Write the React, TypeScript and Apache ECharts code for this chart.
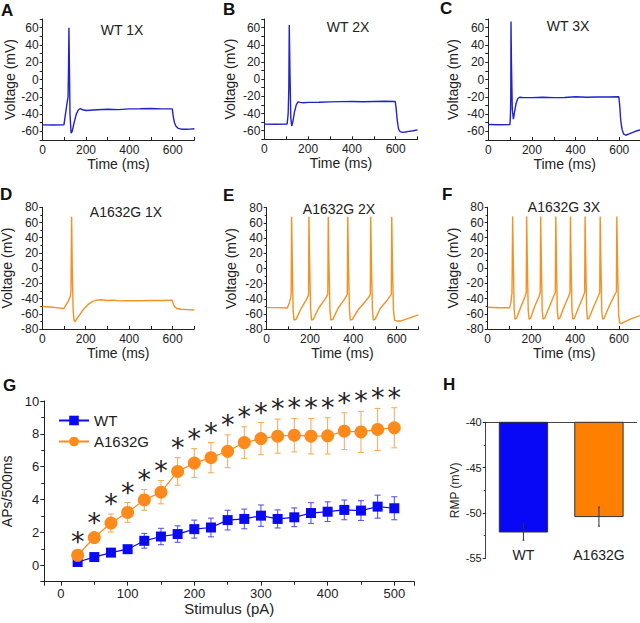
import React, { useEffect, useRef } from 'react';
import * as echarts from 'echarts';

const FONT = 'Arial, "Liberation Sans", Helvetica, sans-serif';
const INK = '#222222';

// ---------- Voltage traces [time (ms), voltage (mV)] ----------
const wt1x: number[][] = [
  [0, -52.5], [50, -52.6], [98, -52.5], [105, -40], [112, -28], [117, -20], [119, 10], [121, 60], [123, 20],
  [126, -40], [131, -62], [136, -60], [145, -50], [155, -40], [165, -35], [172, -33.8], [185, -35], [200, -35.8],
  [250, -35], [300, -34.5], [350, -34.8], [400, -34], [450, -33.8], [500, -33.5], [550, -34], [598, -34],
  [602, -42], [608, -50], [615, -54], [625, -56.5], [640, -57.5], [660, -57.6], [680, -57.4], [700, -57],
];
const wt2x: number[][] = [
  [0, -52.3], [50, -52.4], [104, -52.3], [106, -48], [109, -40], [112, -10], [114, 63], [117, 10], [121, -45],
  [125, -54.5], [130, -50], [138, -38], [146, -30], [154, -26.5], [165, -27], [180, -27.5], [200, -27],
  [250, -26.8], [300, -26.5], [350, -26.2], [400, -26], [450, -26.3], [500, -26], [550, -25.8], [598, -26],
  [602, -34], [607, -48], [613, -58], [620, -61], [632, -62], [645, -61.5], [660, -60.8], [680, -60], [700, -59],
];
const wt3x: number[][] = [
  [0, -52], [50, -52.3], [99, -52], [101, -45], [103, -20], [104, 67], [106, 20], [110, -35], [115, -46],
  [120, -38], [127, -28], [135, -22], [145, -20.5], [160, -21], [200, -21], [250, -20.5], [300, -21],
  [350, -20.8], [400, -20], [450, -20.5], [500, -20.2], [550, -20.3], [598, -20], [602, -30], [607, -48],
  [613, -58], [620, -63], [630, -64.5], [645, -63], [665, -61], [685, -59], [700, -58],
];
const mut1x: number[][] = [
  [0, -50.5], [50, -51.5], [100, -53], [110, -48], [120, -43], [128, -38], [132, -30], [135, 67.5], [138, 0],
  [142, -55], [146, -68], [150, -70.5], [160, -66], [175, -60], [190, -54], [210, -48], [230, -44], [250, -42],
  [270, -41.5], [300, -42.5], [330, -42], [350, -43], [400, -42.8], [450, -42.8], [500, -42.5], [550, -42.5],
  [598, -42], [603, -47], [610, -51], [620, -53], [640, -54], [670, -54.5], [700, -55],
];
const mut2x: number[][] = [
  [0, -51.5], [50, -51.5], [95, -52], [105, -45], [111, -38], [113, -33], [115, 68], [118, 10], [122, -55],
  [126, -68], [135, -67], [160, -52], [185, -40], [193, -35], [195, 68], [198, 10], [203, -55], [207, -68],
  [215, -67], [240, -52], [270, -40], [282, -34], [284, 68], [287, 10], [292, -55], [296, -68], [305, -67],
  [330, -52], [360, -40], [372, -34], [374, 68], [377, 10], [382, -55], [386, -68], [395, -67], [420, -55],
  [450, -45], [470, -38], [478, -34], [480, 68], [483, 10], [488, -55], [492, -68], [500, -67], [525, -52],
  [555, -42], [575, -34], [577, 68], [580, 10], [585, -55], [590, -68], [600, -69], [620, -69], [650, -66],
  [680, -63], [700, -61],
];
const mut3x: number[][] = [
  [0, -51.5], [50, -52], [100, -52], [106, -45], [111, -33], [114, 68], [117, 10], [121, -55], [125, -67],
  [132, -66], [150, -52], [170, -38], [176, -32], [178, 68], [181, 10], [185, -55], [189, -67], [196, -66],
  [215, -50], [235, -37], [240, -32], [242, 68], [245, 10], [249, -55], [253, -67], [260, -66], [280, -52],
  [300, -38], [309, -32], [311, 68], [314, 10], [318, -55], [322, -67], [329, -66], [350, -50], [370, -37],
  [376, -32], [378, 68], [381, 10], [385, -55], [389, -67], [396, -66], [415, -52], [435, -38], [443, -32],
  [445, 68], [448, 10], [452, -55], [456, -67], [463, -66], [485, -50], [505, -37], [512, -32], [514, 68],
  [517, 10], [521, -55], [525, -67], [532, -66], [555, -50], [580, -35], [588, -31], [590, 68], [593, 10],
  [598, -60], [603, -72], [610, -73], [630, -70], [660, -66], [700, -62],
];
const traces = [wt1x, wt2x, wt3x, mut1x, mut2x, mut3x];
const traceTitles = ['WT 1X', 'WT 2X', 'WT 3X', 'A1632G 1X', 'A1632G 2X', 'A1632G 3X'];
const panelLetters = ['A', 'B', 'C', 'D', 'E', 'F', 'G', 'H'];

// ---------- Panel G: APs per 500 ms vs stimulus ----------
const stimulus = [25, 50, 75, 100, 125, 150, 175, 200, 225, 250, 275, 300, 325, 350, 375, 400, 425, 450, 475, 500];
const wtAPs = [0.2, 0.5, 0.77, 0.98, 1.49, 1.75, 1.9, 2.2, 2.3, 2.75, 2.82, 3.02, 2.82, 2.92, 3.18, 3.26, 3.37, 3.33, 3.57, 3.47];
const wtErr = [0.1, 0.15, 0.2, 0.22, 0.45, 0.5, 0.5, 0.55, 0.57, 0.6, 0.6, 0.65, 0.55, 0.57, 0.63, 0.6, 0.6, 0.6, 0.7, 0.7];
const mutAPs = [0.61, 1.69, 2.57, 3.22, 3.98, 4.45, 5.71, 6.22, 6.55, 6.94, 7.47, 7.71, 7.86, 7.92, 7.86, 7.88, 8.16, 8.12, 8.27, 8.37];
const mutErr = [0.2, 0.25, 0.55, 0.6, 0.63, 0.71, 0.84, 0.88, 0.92, 1.0, 0.96, 0.98, 1.04, 1.02, 1.08, 1.1, 1.12, 1.25, 1.28, 1.22];
const seriesNames = ['WT', 'A1632G'];

// ---------- Panel H: resting membrane potential ----------
const rmpGroups = ['WT', 'A1632G'];
const rmpMean = [-52.1, -50.4];
const rmpErr = [0.9, 1.05];
const rmpBaseline = -40;

const WT_TRACE = '#2222cc';
const MUT_TRACE = '#f39224';
const WT_BLUE = '#0a0af2';
const MUT_ORANGE = '#ff8a1c';
const BAR_COLORS = ['#0808f6', '#ff8000'];

const gridsPx = [
  { left: 42.7, top: 19, width: 151.7, height: 121 },
  { left: 264.3, top: 19, width: 153.3, height: 120.3 },
  { left: 488.3, top: 19, width: 152.8, height: 121 },
  { left: 42.3, top: 207.3, width: 152, height: 121.7 },
  { left: 266.7, top: 207.7, width: 151.7, height: 121.6 },
  { left: 487.7, top: 207.3, width: 153.2, height: 121.7 },
  { left: 44.3, top: 401, width: 370, height: 180.7 },
  { left: 485.7, top: 422.3, width: 151, height: 136 },
];

const axisLine = { show: true, onZero: false, lineStyle: { color: INK, width: 1 } };
const tick = (inside: boolean, length = 3) => ({ show: true, inside, length, lineStyle: { color: INK, width: 1 } });

function traceX(gridIndex: number, nameGap: number) {
  return {
    type: 'value', gridIndex, min: 0, max: 700, interval: 100,
    name: 'Time (ms)', nameLocation: 'middle', nameGap,
    nameTextStyle: { fontSize: 14, color: INK, fontFamily: FONT },
    axisLine, axisTick: tick(true),
    axisLabel: { fontSize: 12, color: INK, margin: 4, fontFamily: FONT, formatter: (v: number) => (v % 200 === 0 ? String(v) : '') },
    splitLine: { show: false },
  };
}
function traceY(gridIndex: number, min: number, max: number, interval: number, nameGap: number, minor: boolean) {
  return {
    type: 'value', gridIndex, min, max, interval,
    name: 'Voltage (mV)', nameLocation: 'middle', nameGap,
    nameTextStyle: { fontSize: 14, color: INK, fontFamily: FONT },
    axisLine, axisTick: tick(false),
    minorTick: { show: minor, splitNumber: 2, length: 2, lineStyle: { color: INK } },
    axisLabel: { fontSize: 12, color: INK, margin: 4, fontFamily: FONT, formatter: (v: number) => (v % 20 === 0 ? String(v) : '') },
    splitLine: { show: false }, minorSplitLine: { show: false },
  };
}

function buildOption() {
  const xAxis: any[] = [
    traceX(0, 14), traceX(1, 14), traceX(2, 14), traceX(3, 16), traceX(4, 16), traceX(5, 16),
    {
      type: 'value', gridIndex: 6, min: -25, max: 530, splitNumber: 5,
      name: 'Stimulus (pA)', nameLocation: 'middle', nameGap: 13,
      nameTextStyle: { fontSize: 15, color: INK, fontFamily: FONT },
      axisLine, axisTick: tick(false, 4),
      minorTick: { show: true, splitNumber: 2, length: 3, lineStyle: { color: INK } },
      axisLabel: { fontSize: 13, color: INK, margin: 5, fontFamily: FONT, showMinLabel: false, showMaxLabel: false },
      splitLine: { show: false }, minorSplitLine: { show: false },
    },
    {
      type: 'category', gridIndex: 7, data: rmpGroups, position: 'top',
      axisLine: { show: true, onZero: false, lineStyle: { color: '#444', width: 1 } },
      axisTick: { show: false }, axisLabel: { show: false }, splitLine: { show: false },
    },
    {
      type: 'category', gridIndex: 7, data: rmpGroups, position: 'bottom',
      axisLine: { show: false, onZero: false }, axisTick: { show: false },
      axisLabel: { fontSize: 14, color: INK, margin: -10, fontFamily: FONT },
      splitLine: { show: false },
    },
  ];
  const yAxis: any[] = [
    traceY(0, -70, 70, 10, 26, false), traceY(1, -70, 70, 10, 27, false), traceY(2, -70, 70, 10, 28, false),
    traceY(3, -80, 80, 20, 28, true), traceY(4, -80, 80, 20, 29, true), traceY(5, -80, 80, 20, 28, true),
    {
      type: 'value', gridIndex: 6, min: -1, max: 10, splitNumber: 5,
      name: 'APs/500ms', nameLocation: 'middle', nameGap: 22,
      nameTextStyle: { fontSize: 14, color: INK, fontFamily: FONT },
      axisLine, axisTick: tick(false, 4),
      minorTick: { show: true, splitNumber: 2, length: 3, lineStyle: { color: INK } },
      axisLabel: { fontSize: 13, color: INK, margin: 5, fontFamily: FONT, showMinLabel: false },
      splitLine: { show: false }, minorSplitLine: { show: false },
    },
    {
      type: 'value', gridIndex: 7, min: -55, max: -40, interval: 5,
      name: 'RMP (mV)', nameLocation: 'middle', nameGap: 25,
      nameTextStyle: { fontSize: 12, color: INK, fontFamily: FONT },
      axisLine: { show: true, onZero: false, lineStyle: { color: '#444', width: 1 } },
      axisTick: tick(false, 3),
      minorTick: { show: true, splitNumber: 2, length: 2, lineStyle: { color: '#444' } },
      axisLabel: { fontSize: 11, color: INK, margin: 4, fontFamily: FONT },
      splitLine: { show: false }, minorSplitLine: { show: false },
    },
  ];

  const series: any[] = traces.map((tr, i) => ({
    type: 'line', xAxisIndex: i, yAxisIndex: i, data: tr, showSymbol: false, symbol: 'none',
    lineStyle: { color: i < 3 ? WT_TRACE : MUT_TRACE, width: 1.4 }, silent: true,
  }));

  const errSeries = (name: string, means: number[], errs: number[], color: string) => ({
    type: 'custom', name, xAxisIndex: 6, yAxisIndex: 6, z: 1, silent: true,
    data: stimulus.map((s, i) => [s, means[i], errs[i]]),
    renderItem: (_p: any, api: any) => {
      const x = api.value(0), m = api.value(1), e = api.value(2);
      const hi = api.coord([x, m + e]);
      const lo = api.coord([x, m - e]);
      const c = 3;
      const st = { stroke: color, lineWidth: 1 };
      return {
        type: 'group', children: [
          { type: 'line', shape: { x1: hi[0], y1: hi[1], x2: lo[0], y2: lo[1] }, style: st },
          { type: 'line', shape: { x1: hi[0] - c, y1: hi[1], x2: hi[0] + c, y2: hi[1] }, style: st },
          { type: 'line', shape: { x1: lo[0] - c, y1: lo[1], x2: lo[0] + c, y2: lo[1] }, style: st },
        ],
      };
    },
  });
  series.push(errSeries('WT SEM', wtAPs, wtErr, '#4a4af0'));
  series.push(errSeries('A1632G SEM', mutAPs, mutErr, '#f8a850'));
  series.push({
    type: 'line', name: seriesNames[0], xAxisIndex: 6, yAxisIndex: 6, z: 3,
    data: stimulus.map((s, i) => [s, wtAPs[i]]),
    symbol: 'rect', symbolSize: 10, showSymbol: true,
    itemStyle: { color: WT_BLUE }, lineStyle: { color: WT_BLUE, width: 1.2 },
  });
  series.push({
    type: 'line', name: seriesNames[1], xAxisIndex: 6, yAxisIndex: 6, z: 4,
    data: stimulus.map((s, i) => [s, mutAPs[i]]),
    symbol: 'circle', symbolSize: 13, showSymbol: true,
    itemStyle: { color: MUT_ORANGE }, lineStyle: { color: MUT_ORANGE, width: 1.2 },
  });
  series.push({
    type: 'custom', name: 'significance', xAxisIndex: 6, yAxisIndex: 6, z: 5, silent: true,
    data: stimulus.map((s, i) => [s, mutAPs[i] + mutErr[i]]),
    renderItem: (_p: any, api: any) => {
      const pt = api.coord([api.value(0), api.value(1)]);
      return {
        type: 'text', x: pt[0], y: pt[1] + 3,
        style: { text: '*', fontSize: 27, fontFamily: '"DejaVu Sans", sans-serif', fill: INK, align: 'center', verticalAlign: 'bottom' },
      };
    },
  });
  series.push({
    type: 'custom', name: 'RMP', xAxisIndex: 7, yAxisIndex: 7, silent: true,
    data: rmpMean.map((m, i) => [i, m, rmpErr[i]]),
    renderItem: (_p: any, api: any) => {
      const i = api.value(0), m = api.value(1), e = api.value(2);
      const base = api.coord([i, rmpBaseline]);
      const end = api.coord([i, m]);
      const w = api.size([1, 0])[0] * 0.64;
      const hi = api.coord([i, m + e]);
      const lo = api.coord([i, m - e]);
      const st = { stroke: '#333', lineWidth: 1 };
      return {
        type: 'group', children: [
          { type: 'rect', shape: { x: base[0] - w / 2, y: base[1], width: w, height: end[1] - base[1] }, style: { fill: BAR_COLORS[i], stroke: '#333', lineWidth: 1 } },
          { type: 'line', shape: { x1: hi[0], y1: hi[1], x2: lo[0], y2: lo[1] }, style: st },
          { type: 'line', shape: { x1: hi[0] - 1, y1: hi[1], x2: hi[0] + 1, y2: hi[1] }, style: st },
          { type: 'line', shape: { x1: lo[0] - 1, y1: lo[1], x2: lo[0] + 1, y2: lo[1] }, style: st },
        ],
      };
    },
  });

  const letterPos = [[1, 10], [223, 9], [440, 8.5], [0, 194], [223, 195.5], [442, 194], [3, 385], [443, 384]];
  const titlePos = [[122, 30], [348, 27], [568, 26], [126, 212], [339, 208.5], [564, 207]];
  const graphic: any[] = [];
  panelLetters.forEach((L, i) => {
    graphic.push({
      type: 'text', x: letterPos[i][0], y: letterPos[i][1], silent: true,
      style: { text: L, fontSize: 17, fontWeight: 'bold', fontFamily: FONT, fill: '#111', align: 'left', verticalAlign: 'middle', textAlign: 'left', textVerticalAlign: 'middle' },
    });
  });
  traceTitles.forEach((t, i) => {
    graphic.push({
      type: 'text', x: titlePos[i][0], y: titlePos[i][1], silent: true,
      style: { text: t, fontSize: 14, fontFamily: FONT, fill: INK, align: 'center', verticalAlign: 'middle', textAlign: 'center', textVerticalAlign: 'middle' },
    });
  });

  return {
    animation: false,
    backgroundColor: '#ffffff',
    textStyle: { fontFamily: FONT },
    grid: gridsPx.map((g) => ({ ...g, containLabel: false, outerBoundsMode: 'none' })),
    xAxis, yAxis, series, graphic,
    legend: {
      data: seriesNames, left: 58, top: 413, orient: 'vertical', padding: 0,
      itemWidth: 30, itemHeight: 12, itemGap: 6,
      textStyle: { fontSize: 15, color: INK, fontFamily: FONT },
      selectedMode: false,
    },
  };
}

export default function App() {
  const ref = useRef<HTMLDivElement>(null);
  useEffect(() => {
    if (!ref.current) return;
    const chart = echarts.init(ref.current, undefined, { renderer: 'svg' });
    chart.setOption(buildOption() as any);
    return () => chart.dispose();
  }, []);
  return <div ref={ref} style={{ position: 'fixed', left: 0, top: 0, width: 640, height: 623 }} />;
}
